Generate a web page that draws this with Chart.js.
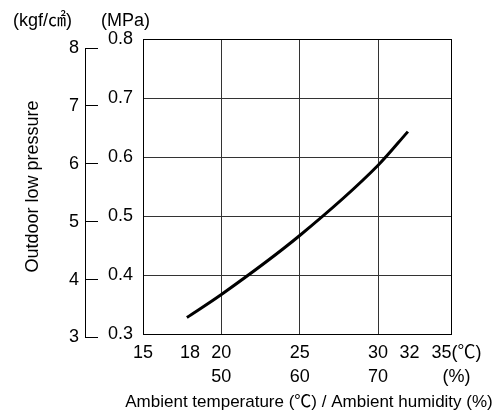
<!DOCTYPE html>
<html>
<head>
<meta charset="utf-8">
<script src="https://cdn.jsdelivr.net/npm/chart.js@4"></script>
<style>
  body { margin: 0; background: #fff; }
  #wrap { width: 504px; height: 415px; position: relative; }
</style>
</head>
<body>
<div id="wrap"><canvas id="Chart"></canvas></div>
<script>
// ambient temperature ticks (℃) with matching humidity labels (%)
var tempTicks = [15, 18, 20, 25, 30, 32, 35];
var tempLabels = ["15", "18", "20", "25", "30", "32", "35(℃)"];
var humidityLabels = ["", "", "50", "60", "70", "", "(%)"];
var gridTemps = [20, 25, 30];

// pressure ticks
var mpaTicks = [0.3, 0.4, 0.5, 0.6, 0.7, 0.8];
var kgfTicks = [3, 4, 5, 6, 7, 8];

// outdoor low pressure curve
var curveTemp = [17.8, 20, 25, 30, 31.9];
var curveMpa = [0.328, 0.367, 0.467, 0.586, 0.643];

var MPA_PER_KGF = 0.0980665;
var FONT = "'Liberation Sans', Arial, 'Noto Sans CJK JP', sans-serif";
var X_TITLE = "Ambient temperature (℃) / Ambient humidity (%)";

Chart.defaults.font.family = FONT;
Chart.defaults.color = "#000";

var frame = {
  id: "frame",
  beforeDatasetsDraw: function (chart) {
    var a = chart.chartArea, ctx = chart.ctx;
    ctx.save();
    ctx.strokeStyle = "#000";
    ctx.lineWidth = 1;
    ctx.strokeRect(Math.round(a.left) + 0.5, Math.round(a.top) + 0.5,
      Math.round(a.right - a.left), Math.round(a.bottom - a.top));
    ctx.restore();
  },
  afterDraw: function (chart) {
    var ctx = chart.ctx, a = chart.chartArea;
    var k = chart.scales.kgf, m = chart.scales.y;
    var tl = k.options.grid.tickLength;
    var x = Math.round(k.right - tl) + 0.5;
    ctx.save();
    ctx.strokeStyle = "#000";
    ctx.lineWidth = 1;
    ctx.beginPath();
    ctx.moveTo(x, Math.round(k.getPixelForValue(kgfTicks[kgfTicks.length - 1])) + 0.5);
    ctx.lineTo(x, Math.round(k.getPixelForValue(kgfTicks[0])) + 0.5);
    ctx.stroke();
    ctx.fillStyle = "#000";
    ctx.textBaseline = "middle";
    // unit headers
    ctx.font = "18px " + FONT;
    ctx.textAlign = "right";
    ctx.fillText("(kgf/㎠)", k.right - 26, a.top - 18);
    ctx.textAlign = "left";
    ctx.fillText("(MPa)", m.left + 3, a.top - 18);
    // x axis title (wider than the plot, so drawn here)
    ctx.font = "17px " + FONT;
    ctx.textAlign = "center";
    ctx.fillText(X_TITLE, (a.left + a.right) / 2 + 12, chart.height - 13);
    ctx.restore();
  }
};

var ctx = document.getElementById("Chart").getContext("2d");
var chart = new Chart(ctx, {
  type: "line",
  data: {
    datasets: [
      {
        data: curveTemp.map(function (t, i) { return { x: t, y: curveMpa[i] }; }),
        borderColor: "#000",
        borderWidth: 3,
        pointRadius: 0,
        cubicInterpolationMode: "monotone",
        fill: false
      }
    ]
  },
  options: {
    responsive: true,
    maintainAspectRatio: false,
    animation: false,
    layout: { padding: { left: 0, right: 53, top: 39, bottom: 0 } },
    plugins: { legend: { display: false }, tooltip: { enabled: false } },
    scales: {
      x: {
        type: "linear",
        min: 15,
        max: 34.65,
        afterBuildTicks: function (s) { s.ticks = tempTicks.map(function (v) { return { value: v }; }); },
        afterFit: function (s) { s.height = 81; },
        border: { display: false },
        grid: {
          drawTicks: false,
          color: function (c) {
            var v = c.tick && c.tick.value;
            return gridTemps.indexOf(v) >= 0 ? "#333" : "rgba(0,0,0,0)";
          }
        },
        ticks: {
          autoSkip: false,
          maxRotation: 0,
          padding: 8,
          font: { size: 18, lineHeight: 1.28 },
          callback: function (v, i) { return [tempLabels[i], humidityLabels[i]]; }
        }
      },
      y: {
        type: "linear",
        position: "left",
        weight: 0,
        min: 0.3,
        max: 0.8,
        afterBuildTicks: function (s) { s.ticks = mpaTicks.map(function (v) { return { value: v }; }); },
        afterFit: function (s) { s.width = 45; },
        border: { display: false },
        grid: { drawTicks: false, color: "#333" },
        ticks: {
          padding: 10,
          font: { size: 18 },
          callback: function (v) { return v.toFixed(1); }
        }
      },
      kgf: {
        type: "linear",
        position: "left",
        weight: 1,
        min: 0.3 / MPA_PER_KGF,
        max: 0.8 / MPA_PER_KGF,
        afterBuildTicks: function (s) { s.ticks = kgfTicks.map(function (v) { return { value: v }; }); },
        afterFit: function (s) { s.width = 98; },
        border: { display: false },
        grid: { drawOnChartArea: false, drawTicks: true, tickLength: 13, tickColor: "#000", tickWidth: 1 },
        ticks: { padding: 6, font: { size: 18 } },
        title: {
          display: true,
          text: "Outdoor low pressure",
          font: { size: 18 },
          padding: { top: 22, bottom: 0 }
        }
      }
    }
  },
  plugins: [frame]
});
</script>
</body>
</html>
